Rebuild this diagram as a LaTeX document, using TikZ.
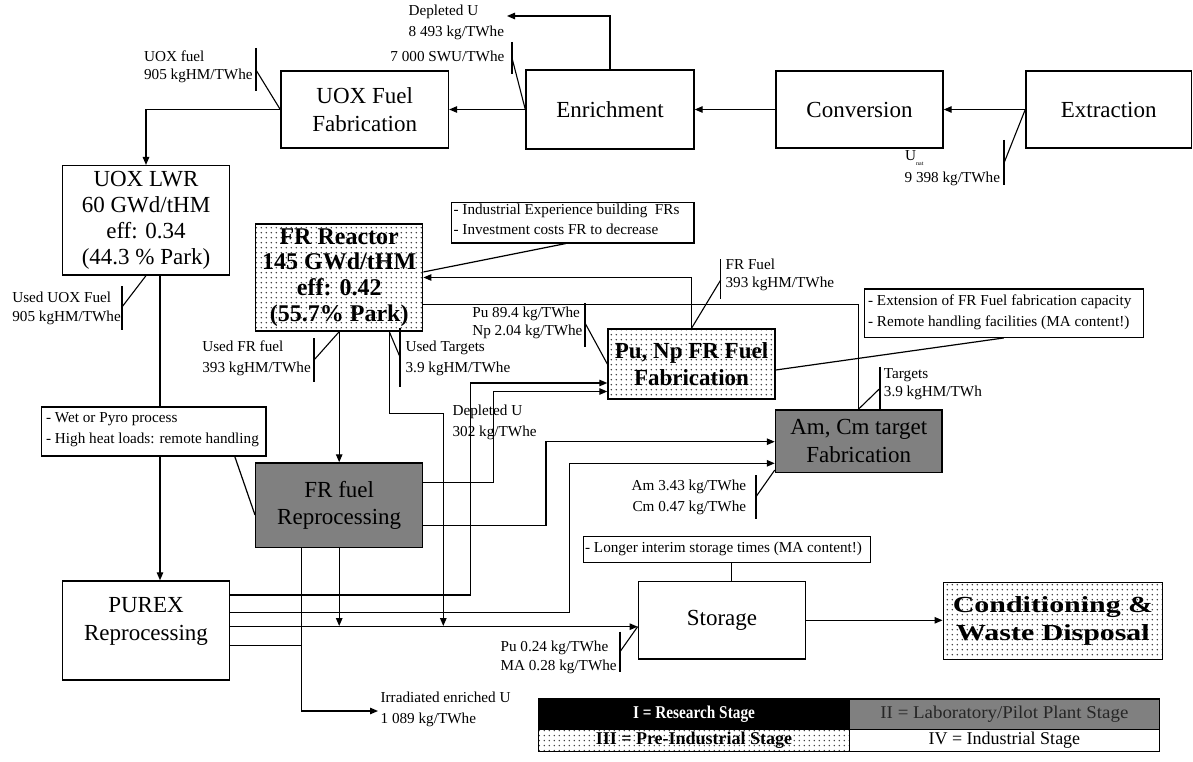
\documentclass[tikz,border=0pt]{standalone}
\usepackage{graphicx}
\usepackage{fontspec}
\setmainfont{Liberation Serif}
\usetikzlibrary{arrows.meta,patterns}

% sparse dot grid used for the pre-industrial stage
\pgfdeclarepatternformonly{finedots}{\pgfpointorigin}{\pgfpoint{4.8pt}{4.8pt}}{\pgfpoint{4.8pt}{4.8pt}}{%
  \pgfpathcircle{\pgfpoint{2.4pt}{2.4pt}}{0.8pt}\pgfusepath{fill}}

\newcommand{\bxfont}{\fontsize{23}{27.5}\selectfont}
\newcommand{\lbfont}{\fontsize{15.2}{18}\selectfont}
\newcommand{\lgfont}{\fontsize{18}{20}\selectfont}

\begin{document}
\begin{tikzpicture}[x=1pt,y=-1pt,line width=1.2pt,
  box/.style={draw,line width=1.4pt,inner sep=0pt,align=center,font=\bxfont},
  stagethree/.style={box,preaction={fill=white},pattern=finedots,pattern color=black!80,font=\bxfont\bfseries},
  stagetwo/.style={box,fill=black!50},
  note/.style={draw,line width=1.2pt,fill=white,inner sep=0pt},
  lab/.style={inner sep=0pt,font=\lbfont,anchor=mid west},
  labr/.style={lab,anchor=mid east},
  flow/.style={-{Triangle[length=8pt,width=6.5pt]}},
  tick/.style={line width=1.1pt},
  cell/.style={draw,line width=1.2pt,inner sep=0pt,font=\lgfont}]

\useasboundingbox (0,0) rectangle (1193,762);

% ---------- process boxes ----------
\node[box,minimum width=167.5pt,minimum height=77pt] (uoxfab) at (364.7,109.5) {UOX Fuel\\Fabrication};
\node[box,minimum width=168pt,minimum height=79pt] (enrich) at (610,109.5) {Enrichment};
\node[box,minimum width=167pt,minimum height=77pt] (conv) at (859.5,109.5) {Conversion};
\node[box,minimum width=165.5pt,minimum height=77pt] (extr) at (1108.7,109.5) {Extraction};
\node[box,minimum width=166.6pt,minimum height=109.3pt,font=\fontsize{23}{26.3}\selectfont] (lwr) at (146,220.3)
  {UOX LWR\\60 GWd/tHM\\eff: 0.34\\(44.3 \% Park)};
\node[stagethree,minimum width=167pt,minimum height=107pt,font=\fontsize{24}{25.7}\selectfont\bfseries] (frr) at (339.2,277.5)
  {FR Reactor\\145 GWd/tHM\\eff: 0.42\\(55.7\% Park)};
\node[stagethree,minimum width=167pt,minimum height=70pt] (puf) at (691.5,364) {Pu, Np FR Fuel\\Fabrication};
\node[stagetwo,minimum width=166.5pt,minimum height=62.3pt] (amcm) at (858.7,441.2) {Am, Cm target\\Fabrication};
\node[stagetwo,minimum width=167pt,minimum height=84.5pt] (frrep) at (339.2,505.2) {FR fuel\\Reprocessing};
\node[box,minimum width=166.6pt,minimum height=99pt] (purex) at (146,630.5) {};
\node[align=center,font=\bxfont,inner sep=0pt] (purextxt) at (146,621.5) {PUREX\\Reprocessing};
\node[box,minimum width=167.4pt,minimum height=77.3pt] (stor) at (722,620.3) {Storage};
\node[stagethree,minimum width=219.5pt,minimum height=77pt] (cond) at (1053,620.8)
  {\scalebox{1.3}[1]{Conditioning \&}\\\scalebox{1.3}[1]{Waste Disposal}};

% ---------- connector waypoints ----------
\coordinate (depU) at (507,16);
\coordinate (xLW) at (160,0);
\coordinate (ut1) at (389.3,413.5);
\coordinate (ut2) at (443.3,626);
\coordinate (pp0) at (470.5,595);
\coordinate (pp1) at (470.5,383);
\coordinate (fp0) at (493.3,482.7);
\coordinate (fp1) at (493.3,391.5);
\coordinate (pf1) at (691.7,277.5);
\coordinate (ta1) at (858.3,304.5);
\coordinate (fa0) at (546,525.5);
\coordinate (fa1) at (546,441.7);
\coordinate (pa0) at (569.3,612.3);
\coordinate (pa1) at (569.3,463.3);
\coordinate (ps0) at (0,626.7);
\coordinate (fs1) at (339.2,626);
\coordinate (pi0) at (301.7,645.5);
\coordinate (fi0) at (301.7,711);
\coordinate (irr) at (378,711);
\coordinate (xCS) at (731.7,0);

% ---------- front end ----------
\draw[flow] (extr.west) -- (conv.east);
\draw[flow] (conv.west) -- (enrich.east);
\draw[flow] (enrich.west) -- (uoxfab.east);
\draw[flow] (enrich.north) |- (depU);
\draw[flow] (uoxfab.west) -| (lwr.north);

% ---------- reactors and back end ----------
\draw (lwr.south -| xLW) -- (xLW |- 0,407);
\draw[flow] (xLW |- 0,456) -- (purex.north -| xLW);
\draw[flow] (frr.south) -- (frrep.north);
\draw[flow] (frr.south -| ut1) -- (ut1) -| (ut2);
\draw[flow] (purex.east |- pp0) -- (pp0) -- (pp1) -- (puf.west |- pp1);
\draw[flow] (frrep.east |- fp0) -- (fp0) -- (fp1) -- (puf.west |- fp1);
\draw[flow] (puf.north -| pf1) -- (pf1) -- (frr.east |- pf1);
\draw (frr.east |- ta1) -- (ta1) -- (amcm.north -| ta1);
\draw[flow] (frrep.east |- fa0) -- (fa0) -- (fa1) -- (amcm.west |- fa1);
\draw[flow] (purex.east |- pa0) -- (pa0) -- (pa1) -- (amcm.west |- pa1);
\draw[flow] (purex.east |- ps0) -- (stor.west |- ps0);
\draw[flow] (frrep.south) -- (fs1);
\draw[flow] (frrep.south -| fi0) -- (fi0) -- (irr);
\draw (purex.east |- pi0) -- (pi0);
\draw[flow] (stor.east) -- (cond.west |- stor.east);

% ---------- remark boxes ----------
\node[note,minimum width=242.3pt,minimum height=40.3pt] (cind) at (572.8,222.8) {};
\node[lab] (cind1) at (453,212) {- Industrial Experience building\ \ FRs};
\node[lab] (cind2) at (453,232) {- Investment costs FR to decrease};
\draw ([xshift=-7pt]cind.south) -- ([yshift=5.5pt]frr.east);

\node[note,minimum width=279pt,minimum height=48.3pt] (cext) at (1003.8,313.2) {};
\node[lab] (cext1) at (867.5,303.3) {- Extension of FR Fuel fabrication capacity};
\node[lab] (cext2) at (867.5,324.3) {- Remote handling facilities (MA content!)};
\draw (cext.south) -- ([yshift=-6pt]puf.east);

\node[note,minimum width=224.3pt,minimum height=49pt] (cwet) at (153.8,431.5) {};
\node[lab] (cwet1) at (45.5,420.7) {- Wet or Pyro process};
\node[lab] (cwet2) at (45.5,441) {- High heat loads: remote handling};
\draw ([xshift=81pt]cwet.south) -- ([yshift=-9.8pt]frrep.west);

\node[note,minimum width=287.4pt,minimum height=25.6pt] (cstor) at (727,549.5) {};
\node[lab] (cstor1) at (584.5,550) {- Longer interim storage times (MA content!)};
\draw (cstor.south -| xCS) -- (stor.north -| xCS);

% ---------- flow quantities ----------
\node[lab] (lUf1) at (143.5,59) {UOX fuel};
\node[lab] (lUf2) at (143.5,77) {905 kgHM/TWhe};
\draw[tick] (256,48) -- (256,91);
\draw[tick] (256,70) -- (uoxfab.west);

\node[lab] (lDu1) at (408,13) {Depleted U};
\node[lab] (lDu2) at (408,34) {8 493 kg/TWhe};
\node[labr] (lSwu) at (505,59) {7 000 SWU/TWhe};
\draw[tick] (512,42) -- (512,74);
\draw[tick] (512,58) -- (enrich.west);

\node[lab] (lUn1) at (904.5,158) {U\raisebox{-5pt}{\fontsize{6}{6}\selectfont nat}};
\node[lab] (lUn2) at (904,180) {9 398 kg/TWhe};
\draw[tick] (1004,140) -- (1004,185);
\draw[tick] (1004,163) -- (extr.west);

\node[lab] (lUu1) at (11.7,300) {Used UOX Fuel};
\node[lab] (lUu2) at (11.7,319) {905 kgHM/TWhe};
\draw[tick] (122,286) -- (122,330);
\draw[tick] (122,307) -- (lwr.south);

\node[lab] (lUr1) at (201.7,349) {Used FR fuel};
\node[lab] (lUr2) at (201.7,370) {393 kgHM/TWhe};
\draw[tick] (314,338) -- (314,382);
\draw[tick] (314,360) -- (frr.south);

\node[lab] (lUt1) at (405,349) {Used Targets};
\node[lab] (lUt2) at (405,370) {3.9 kgHM/TWhe};
\draw[tick] (400,328) -- (400,387);
\draw[tick] (400,357) -- (frr.south -| ut1);

\node[lab] (lFf1) at (725,267) {FR Fuel};
\node[lab] (lFf2) at (725,285) {393 kgHM/TWhe};
\draw[tick] (720.7,259) -- (720.7,299);
\draw[tick] (720.7,280) -- (puf.north);

\node[lab] (lPu1) at (471.7,315) {Pu 89.4 kg/TWhe};
\node[lab] (lPu2) at (471.7,333) {Np 2.04 kg/TWhe};
\draw[tick] (585,303) -- (585,346.7);
\draw[tick] (585,323) -- (puf.west);

\node[lab] (lDp1) at (452,413.3) {Depleted U};
\node[lab] (lDp2) at (452,434) {302 kg/TWhe};

\node[lab] (lTg1) at (883.3,376.7) {Targets};
\node[lab] (lTg2) at (883.3,394.3) {3.9 kgHM/TWh};
\draw[tick] (880,366.7) -- (880,410);
\draw[tick] (880,388.3) -- (amcm.north -| ta1);

\node[labr] (lAm1) at (746.7,488.3) {Am 3.43 kg/TWhe};
\node[labr] (lAm2) at (746.7,509.3) {Cm 0.47 kg/TWhe};
\draw[tick] (756,475) -- (756,519.3);
\draw[tick] (756,496.7) -- ([yshift=3pt]amcm.south west);

\node[lab] (lPs1) at (500,649) {Pu 0.24 kg/TWhe};
\node[lab] (lPs2) at (500,668.3) {MA 0.28 kg/TWhe};
\draw[tick] (620,631.7) -- (620,671.7);
\draw[tick] (620,651.7) -- (stor.west |- ps0);

\node[lab] (lIr1) at (380,700) {Irradiated enriched U};
\node[lab] (lIr2) at (380,721) {1 089 kg/TWhe};

% ---------- stage legend ----------
\node[cell,fill=black,text=white,minimum width=310.9pt,minimum height=30.3pt,font=\lgfont\bfseries] (leg1) at (694,714.2)
  {\scalebox{0.85}[1]{I = Research Stage}};
\node[cell,fill=black!50,text=black!85,minimum width=309.7pt,minimum height=30.3pt] (leg2) at (1004.4,714.2)
  {\scalebox{1.05}[1]{II = Laboratory/Pilot Plant Stage}};
\node[cell,preaction={fill=white},pattern=finedots,pattern color=black!80,minimum width=310.9pt,minimum height=22.4pt,font=\lgfont\bfseries] (leg3) at (694,740.5)
  {III = Pre-Industrial Stage};
\node[cell,minimum width=309.7pt,minimum height=22.4pt] (leg4) at (1004.4,740.5) {IV = Industrial Stage};

\end{tikzpicture}
\end{document}
